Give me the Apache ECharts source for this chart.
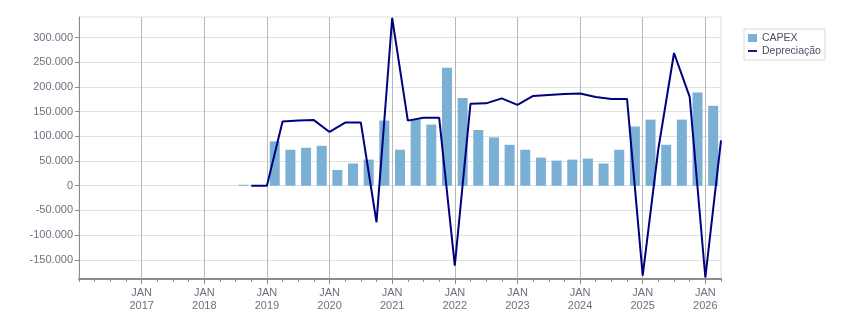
<!DOCTYPE html>
<html>
<head>
<meta charset="utf-8">
<script src="https://cdn.jsdelivr.net/npm/echarts@6/dist/echarts.min.js"></script>
<style>
html,body{margin:0;padding:0;background:#fff;}
#chart{width:851px;height:313px;}
</style>
</head>
<body>
<div id="chart"></div>
<script>
// Quarters (CAPEX bar drawn mid-quarter, Depreciação point at quarter end)
const quarters = ['2018Q3','2018Q4',
  '2019Q1','2019Q2','2019Q3','2019Q4',
  '2020Q1','2020Q2','2020Q3','2020Q4',
  '2021Q1','2021Q2','2021Q3','2021Q4',
  '2022Q1','2022Q2','2022Q3','2022Q4',
  '2023Q1','2023Q2','2023Q3','2023Q4',
  '2024Q1','2024Q2','2024Q3','2024Q4',
  '2025Q1','2025Q2','2025Q3','2025Q4',
  '2026Q1'];
const capex = [2000, 0,
  90000, 73000, 77000, 81000,
  32000, 45000, 53000, 132000,
  73000, 134000, 124000, 239000,
  178000, 113000, 98000, 83000,
  73000, 57000, 51000, 53000,
  55000, 45000, 73000, 120000,
  134000, 83000, 134000, 189000,
  162000];
const depreciacao = [0, 0,
  130000, 132000, 133000, 109000,
  128000, 128000, -74000, 340000,
  132000, 138000, 138000, -162000,
  166000, 167000, 177000, 164000,
  182000, 184000, 186000, 187000,
  180000, 176000, 176000, -182000,
  75000, 269000, 180000, -186000,
  92000];
const xMinYear = 2016, xMaxYear = 2026.25;
const yMin = -189000, yMax = 342000;

function qStart(q){ const y = parseInt(q.slice(0,4),10); const n = parseInt(q.slice(5),10); return y + (n-1)/4; }
function fmt(v){
  const s = Math.round(Math.abs(v)).toString().replace(/\B(?=(\d{3})+(?!\d))/g,'.');
  return (v < 0 ? '-' : '') + s;
}

const barData = quarters.map((q,i) => [qStart(q) + 0.125, capex[i]]);
const lineData = quarters.map((q,i) => [qStart(q) + 0.25, depreciacao[i]]);

const FONT = 'Liberation Sans';
const chart = echarts.init(document.getElementById('chart'), null, {renderer:'canvas'});
chart.setOption({
  animation: false,
  backgroundColor: '#ffffff',
  textStyle: {fontFamily: FONT},
  grid: {left: 79, top: 17, width: 642, height: 262, show: true, borderColor: '#dcdcdc', borderWidth: 1, backgroundColor: 'transparent'},
  legend: {
    orient: 'vertical', left: 744, top: 29,
    borderColor: '#d8d8d8', borderWidth: 1, borderRadius: 0,
    padding: [3, 4, 3, 4],
    itemWidth: 9, itemHeight: 8, itemGap: 1,
    textStyle: {fontFamily: FONT, fontSize: 10.5, color: '#4d4d60', lineHeight: 12},
    data: [
      {name: 'CAPEX', icon: 'rect'},
      {name: 'Depreciação', icon: 'path://M0,0 L10,0 L10,2 L0,2 Z', itemStyle: {color: '#000080'}}
    ]
  },
  xAxis: [
    {
      type: 'value', min: xMinYear, max: xMaxYear, interval: 0.25,
      axisLine: {show: true, onZero: false, lineStyle: {color: '#8c8c8c', width: 2}},
      axisTick: {show: true, length: 3, lineStyle: {color: '#8c8c8c'}},
      axisLabel: {show: false},
      splitLine: {show: false}
    },
    {
      type: 'value', min: xMinYear, max: xMaxYear, interval: 1, position: 'bottom',
      axisLine: {show: false, onZero: false},
      axisTick: {show: true, length: 5, lineStyle: {color: '#8c8c8c'}},
      axisLabel: {
        show: true, margin: 7, fontSize: 11, lineHeight: 13, color: '#6f6f80', fontFamily: FONT,
        showMinLabel: false, showMaxLabel: false,
        formatter: function(v){ return (Math.abs(v - Math.round(v)) < 1e-6 && v > xMinYear) ? 'JAN\n' + Math.round(v) : ''; }
      },
      splitLine: {show: true, showMinLine: false, showMaxLine: false, lineStyle: {color: '#b8b8b8', width: 1}}
    }
  ],
  yAxis: {
    type: 'value', min: yMin, max: yMax, minInterval: 50000, maxInterval: 50000,
    axisLine: {show: true, lineStyle: {color: '#8c8c8c', width: 1}},
    axisTick: {show: true, length: 4, lineStyle: {color: '#8c8c8c'}},
    axisLabel: {show: true, margin: 6, fontSize: 11, color: '#6f6f80', fontFamily: FONT,
      showMinLabel: false, showMaxLabel: false,
      formatter: fmt},
    splitLine: {show: true, showMaxLine: false, lineStyle: {color: '#e0e0e0', width: 1}}
  },
  series: [
    {
      name: 'CAPEX', type: 'bar', xAxisIndex: 0, data: barData, barWidth: 10,
      itemStyle: {color: '#79b0d3'}, z: 2
    },
    {
      name: 'Depreciação', type: 'line', xAxisIndex: 0, data: lineData,
      symbol: 'none', showSymbol: false, clip: true,
      lineStyle: {color: '#000080', width: 2}, itemStyle: {color: '#000080'}, z: 3
    }
  ]
});
</script>
</body>
</html>
